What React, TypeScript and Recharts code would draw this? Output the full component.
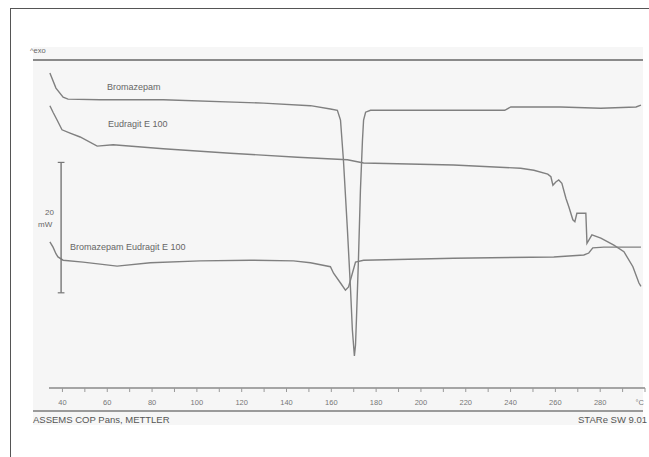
import React from "react";
import { LineChart, Line, XAxis, YAxis, ReferenceLine } from "recharts";

// Temperature (°C) and heat flow (mW, arbitrary offset)
const drugT = [34.4, 37.1, 40.3, 42.5, 56.8, 85.0, 129.7, 150.7, 159.6, 162.7, 164.1, 165.4, 167.2, 168.6, 169.4, 170.3, 170.8, 171.2, 172.1, 173.0, 173.9, 174.4, 175.3, 177.5, 199.8, 231.1, 237.4, 240.1, 262.4, 280.3, 296.0, 298.2];
const drugHF = [48.3, 46.0, 44.6, 44.3, 44.2, 44.2, 43.7, 43.3, 42.8, 42.6, 41.1, 35.0, 24.2, 15.0, 8.9, 4.9, 6.6, 10.4, 19.6, 30.4, 38.0, 41.1, 42.3, 42.6, 42.6, 42.6, 42.6, 43.1, 43.1, 42.9, 43.1, 43.4];

const eudT = [34.4, 35.8, 37.6, 39.8, 43.4, 47.9, 55.5, 62.6, 85.0, 114.9, 144.9, 167.2, 174.4, 214.6, 244.5, 250.4, 256.6, 258.0, 258.9, 260.2, 261.5, 262.9, 264.7, 266.0, 267.8, 268.7, 269.6, 273.6, 274.1, 276.3, 280.3, 286.1, 290.6, 294.6, 297.3, 298.2];
const eudHF = [43.3, 42.3, 41.1, 39.6, 39.1, 38.5, 37.1, 37.3, 36.7, 36.0, 35.4, 35.0, 34.5, 34.2, 33.7, 33.4, 32.8, 32.4, 31.1, 31.6, 31.9, 31.4, 29.1, 27.8, 25.8, 25.5, 26.8, 26.8, 22.2, 23.5, 23.0, 21.9, 20.9, 18.6, 16.1, 15.6];

const mixT = [34.4, 35.8, 37.1, 38.0, 40.3, 49.2, 64.4, 79.2, 101.5, 123.9, 143.1, 150.7, 159.6, 161.0, 164.1, 166.3, 167.7, 169.4, 170.8, 174.4, 214.6, 259.3, 272.7, 274.9, 276.7, 281.6, 298.2];
const mixHF = [22.4, 21.6, 20.6, 20.1, 19.6, 19.3, 18.7, 19.2, 19.5, 19.6, 19.5, 19.2, 18.6, 17.6, 16.1, 15.0, 15.5, 17.6, 19.3, 19.6, 19.9, 20.1, 20.4, 20.7, 21.5, 21.6, 21.6];

const xTicks = [40, 50, 60, 70, 80, 90, 100, 110, 120, 130, 140, 150, 160, 170, 180, 190, 200, 210, 220, 230, 240, 250, 260, 270, 280, 290, 300];
const seriesNames = ["Bromazepam", "Eudragit E 100", "Bromazepam Eudragit E 100"];
const scaleBar = { t: 39.4, low: 14.6, high: 34.6, capL: 37.9, capR: 40.9, label: "20", unit: "mW" };
const footerLeft = "ASSEMS COP Pans, METTLER";
const footerRight = "STARe SW 9.01";

const toRows = (ts: number[], vs: number[]) => ts.map((t, i) => ({ t, hf: vs[i] }));
const drugData = toRows(drugT, drugHF);
const eudData = toRows(eudT, eudHF);
const mixData = toRows(mixT, mixHF);

const FONT = "'Liberation Sans', Arial, sans-serif";
const STROKE = "#808080";

function AxisTick(props: any) {
  const { x, y, payload } = props;
  const v = payload.value as number;
  let label: string | null = null;
  if (v === 300) label = "°C";
  else if (v % 20 === 0) label = String(v);
  return (
    <g>
      <line x1={x} y1={y} x2={x} y2={y + 4} stroke="#999" strokeWidth={1} />
      {label && (
        <text x={v === 300 ? x - 1 : x} y={y + 17} textAnchor={v === 300 ? "end" : "middle"} fontSize={7.5} fill="#777" fontFamily={FONT}>
          {label}
        </text>
      )}
    </g>
  );
}

const txt = (extra: React.CSSProperties): React.CSSProperties => ({
  position: "absolute",
  fontFamily: FONT,
  color: "#666",
  whiteSpace: "nowrap",
  lineHeight: 1,
  ...extra,
});

export default function App() {
  return (
    <div style={{ position: "absolute", left: 0, top: 0, width: 649, height: 457, background: "#fff", overflow: "hidden" }}>
      <div style={{ position: "absolute", left: 10, top: 8, width: 639, height: 449, borderTop: "1.5px solid #555", borderLeft: "1.5px solid #555" }} />
      <div style={{ position: "absolute", left: 33, top: 47, width: 610, height: 378, background: "#f6f6f6" }} />
      <div style={{ position: "absolute", left: 33, top: 59, width: 610, height: 2, background: "#8a8a8a" }} />
      <div style={{ position: "absolute", left: 33, top: 410, width: 610, height: 1.5, background: "#9a9a9a" }} />
      <span style={txt({ left: 30, top: 47, fontSize: 7.5 })}>^exo</span>
      <div style={{ position: "absolute", left: 0, top: 0 }}>
        <LineChart width={649} height={457} margin={{ top: 62, left: 49, right: 4, bottom: 49 }}>
          <XAxis
            type="number"
            dataKey="t"
            domain={[34, 300]}
            ticks={xTicks}
            interval={0}
            allowDataOverflow
            height={20}
            tickSize={0}
            tickMargin={0}
            tickLine={false}
            axisLine={{ stroke: "#8a8a8a", strokeWidth: 1.5 }}
            tick={<AxisTick />}
          />
          <YAxis type="number" domain={[0, 50]} hide allowDataOverflow />
          <Line data={drugData} dataKey="hf" type="linear" stroke={STROKE} strokeWidth={1.4} dot={false} isAnimationActive={false} />
          <Line data={eudData} dataKey="hf" type="linear" stroke={STROKE} strokeWidth={1.4} dot={false} isAnimationActive={false} />
          <Line data={mixData} dataKey="hf" type="linear" stroke={STROKE} strokeWidth={1.4} dot={false} isAnimationActive={false} />
          <ReferenceLine segment={[{ x: scaleBar.t, y: scaleBar.low }, { x: scaleBar.t, y: scaleBar.high }]} stroke="#777" strokeWidth={1.4} />
          <ReferenceLine segment={[{ x: scaleBar.capL, y: scaleBar.high }, { x: scaleBar.capR, y: scaleBar.high }]} stroke="#777" strokeWidth={1.2} />
          <ReferenceLine segment={[{ x: scaleBar.capL, y: scaleBar.low }, { x: scaleBar.capR, y: scaleBar.low }]} stroke="#777" strokeWidth={1.2} />
        </LineChart>
      </div>
      <span style={txt({ left: 107, top: 83, fontSize: 9 })}>{seriesNames[0]}</span>
      <span style={txt({ left: 108, top: 120, fontSize: 9 })}>{seriesNames[1]}</span>
      <span style={txt({ left: 70, top: 243, fontSize: 9 })}>{seriesNames[2]}</span>
      <span style={txt({ left: 45, top: 209, fontSize: 8 })}>{scaleBar.label}</span>
      <span style={txt({ left: 38, top: 221, fontSize: 8 })}>{scaleBar.unit}</span>
      <span style={txt({ left: 33, top: 415, fontSize: 9.5, color: "#555" })}>{footerLeft}</span>
      <span style={txt({ right: 2, top: 415, fontSize: 9.5, color: "#555" })}>{footerRight}</span>
    </div>
  );
}
